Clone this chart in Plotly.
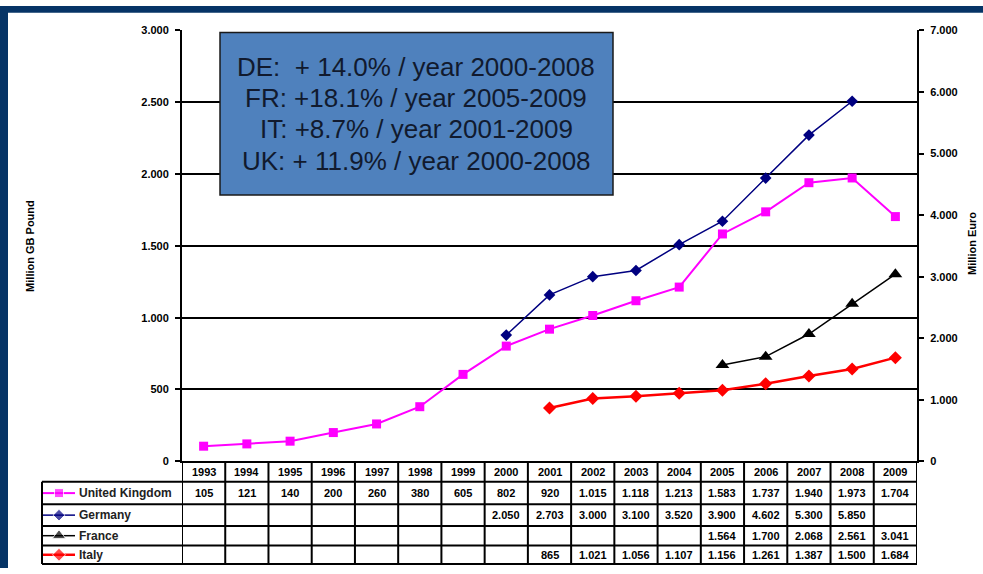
import plotly.graph_objects as go

# ---------------- data ----------------
years = list(range(1993, 2010))
uk_years = list(range(1993, 2010))
uk_values = [105, 121, 140, 200, 260, 380, 605, 802, 920, 1015, 1118, 1213, 1583, 1737, 1940, 1973, 1704]
de_years = list(range(2000, 2009))
de_values = [2050, 2703, 3000, 3100, 3520, 3900, 4602, 5300, 5850]
fr_years = list(range(2005, 2010))
fr_values = [1564, 1700, 2068, 2561, 3041]
it_years = list(range(2001, 2010))
it_values = [865, 1021, 1056, 1107, 1156, 1261, 1387, 1500, 1684]

left_ticks = [0, 500, 1000, 1500, 2000, 2500, 3000]
right_ticks = [0, 1000, 2000, 3000, 4000, 5000, 6000, 7000]

series_names = ["United Kingdom", "Germany", "France", "Italy"]
box_lines = [
    "DE:  + 14.0% / year 2000-2008",
    "FR: +18.1% / year 2005-2009",
    "IT: +8.7% / year 2001-2009",
    "UK: + 11.9% / year 2000-2008",
]

# ---------------- layout constants ----------------
W, H = 983, 574
PL, PR, PT, PB = 182, 917, 25, 465
FONT = "Liberation Sans, Arial, sans-serif"

colors = ["#FF00FF", "#000080", "#000000", "#FF0000"]
symbols = ["square", "diamond", "triangle-up", "diamond"]
widths = [2, 1.5, 1.5, 2.5]
msizes = [9, 9, 12, 10]


def fmt(v):
    return f"{v:,}".replace(",", ".")


fig = go.Figure()

all_series = [
    (uk_years, uk_values, "y"),
    (de_years, de_values, "y2"),
    (fr_years, fr_values, "y2"),
    (it_years, it_values, "y2"),
]
for i, (xs, ys, ax) in enumerate(all_series):
    fig.add_trace(go.Scatter(
        x=xs, y=ys, yaxis=ax, mode="lines+markers", name=series_names[i],
        line=dict(color=colors[i], width=widths[i]),
        marker=dict(symbol=symbols[i], size=msizes[i], color=colors[i]),
        showlegend=False, cliponaxis=False,
    ))

# table rows (pixel centres / borders)
row_edges = [486, 509, 531, 551, 570]
row_centres = [(row_edges[k] + row_edges[k + 1]) / 2 for k in range(4)]
header_centre = (PB + row_edges[0]) / 2

# legend samples in the table's first column
for i in range(4):
    fig.add_trace(go.Scatter(
        x=[43, 59, 75], y=[row_centres[i]] * 3, xaxis="x3", yaxis="y3",
        mode="lines+markers",
        line=dict(color=colors[i], width=widths[i]),
        marker=dict(symbol=symbols[i], size=[0, msizes[i], 0], color=colors[i]),
        showlegend=False, hoverinfo="skip", cliponaxis=False,
    ))

shapes = []
# navy frame bands
shapes.append(dict(type="rect", xref="x3", yref="y3", x0=0, x1=W, y0=0, y1=7,
                   fillcolor="#063466", line=dict(width=0), layer="below"))
shapes.append(dict(type="rect", xref="x3", yref="y3", x0=0, x1=8, y0=0, y1=H,
                   fillcolor="#063466", line=dict(width=0), layer="below"))

# table column borders
for b in [y - 0.5 for y in years] + [years[-1] + 0.5]:
    shapes.append(dict(type="line", xref="x", yref="y3", x0=b, x1=b, y0=PB, y1=row_edges[-1],
                       line=dict(color="black", width=2)))
shapes.append(dict(type="line", xref="x3", yref="y3", x0=42, x1=42, y0=row_edges[0], y1=row_edges[-1],
                   line=dict(color="black", width=2)))
for e in row_edges:
    shapes.append(dict(type="line", xref="x3", yref="y3", x0=42, x1=PR, y0=e, y1=e,
                       line=dict(color="black", width=2)))

# text box
shapes.append(dict(type="rect", xref="x3", yref="y3", x0=220, x1=613, y0=27, y1=193,
                   fillcolor="#4F81BD", line=dict(color="#1a1a1a", width=1.5), layer="above"))

annotations = []
small = dict(family=FONT, size=11, color="black", weight="bold")
for y in years:
    annotations.append(dict(x=y, y=header_centre, xref="x", yref="y3", text=str(y),
                            showarrow=False, font=small))
table_rows = [
    (uk_years, uk_values), (de_years, de_values), (fr_years, fr_values), (it_years, it_values)
]
for r, (xs, ys) in enumerate(table_rows):
    for xv, yv in zip(xs, ys):
        annotations.append(dict(x=xv, y=row_centres[r], xref="x", yref="y3", text=fmt(yv),
                                showarrow=False, font=small))
    annotations.append(dict(x=77, y=row_centres[r], xref="x3", yref="y3", text=series_names[r],
                            showarrow=False, xanchor="left",
                            font=dict(family=FONT, size=12, color="#222222", weight="bold")))

for k, t in enumerate(box_lines):
    annotations.append(dict(x=416, y=62 + 32 * k, xref="x3", yref="y3", text=t, showarrow=False,
                            font=dict(family=FONT, size=26, color="#111a2e")))

annotations.append(dict(x=30, y=245, xref="x3", yref="y3", text="Million GB Pound", textangle=-90,
                        showarrow=False, font=dict(family=FONT, size=11, color="black", weight="bold")))
annotations.append(dict(x=972, y=243, xref="x3", yref="y3", text="Million Euro", textangle=-90,
                        showarrow=False, font=dict(family=FONT, size=11, color="black", weight="bold")))

tickfont = dict(family=FONT, size=11, color="black", weight="bold")
fig.update_layout(
    width=W, height=H,
    margin=dict(l=0, r=0, t=0, b=0),
    paper_bgcolor="white", plot_bgcolor="rgba(0,0,0,0)",
    showlegend=False,
    xaxis=dict(domain=[PL / W, PR / W], range=[1992.5, 2009.5], anchor="y",
               showgrid=False, zeroline=False, showticklabels=False, ticks="",
               showline=True, linecolor="black", linewidth=2),
    yaxis=dict(domain=[(H - PB) / H, (H - PT) / H], range=[0, 3000], anchor="x",
               tickvals=left_ticks, ticktext=[fmt(v) for v in left_ticks],
               showgrid=True, gridcolor="black", gridwidth=1.5, zeroline=False,
               showline=True, linecolor="black", linewidth=2,
               ticks="outside", ticklen=5, tickcolor="black", tickwidth=1.5,
               tickfont=tickfont, ticklabelstandoff=4),
    yaxis2=dict(overlaying="y", side="right", anchor="x", range=[0, 7000],
                tickvals=right_ticks, ticktext=[fmt(v) for v in right_ticks],
                showgrid=False, zeroline=False,
                showline=True, linecolor="black", linewidth=2,
                ticks="outside", ticklen=5, tickcolor="black", tickwidth=1.5,
                tickfont=tickfont, ticklabelstandoff=4),
    xaxis3=dict(domain=[0, 1], range=[0, W], anchor="y3", visible=False, fixedrange=True),
    yaxis3=dict(domain=[0, 1], range=[H, 0], anchor="x3", visible=False, fixedrange=True),
    shapes=shapes,
    annotations=annotations,
)

css = "margin:0;padding:0;overflow:hidden;width:983px;height:574px;"
fig.write_html(
    "out.html",
    config={"displayModeBar": False},
    post_script=(
        "document.documentElement.style.cssText='" + css + "';"
        "document.body.style.cssText='" + css + "';"
    ),
)
